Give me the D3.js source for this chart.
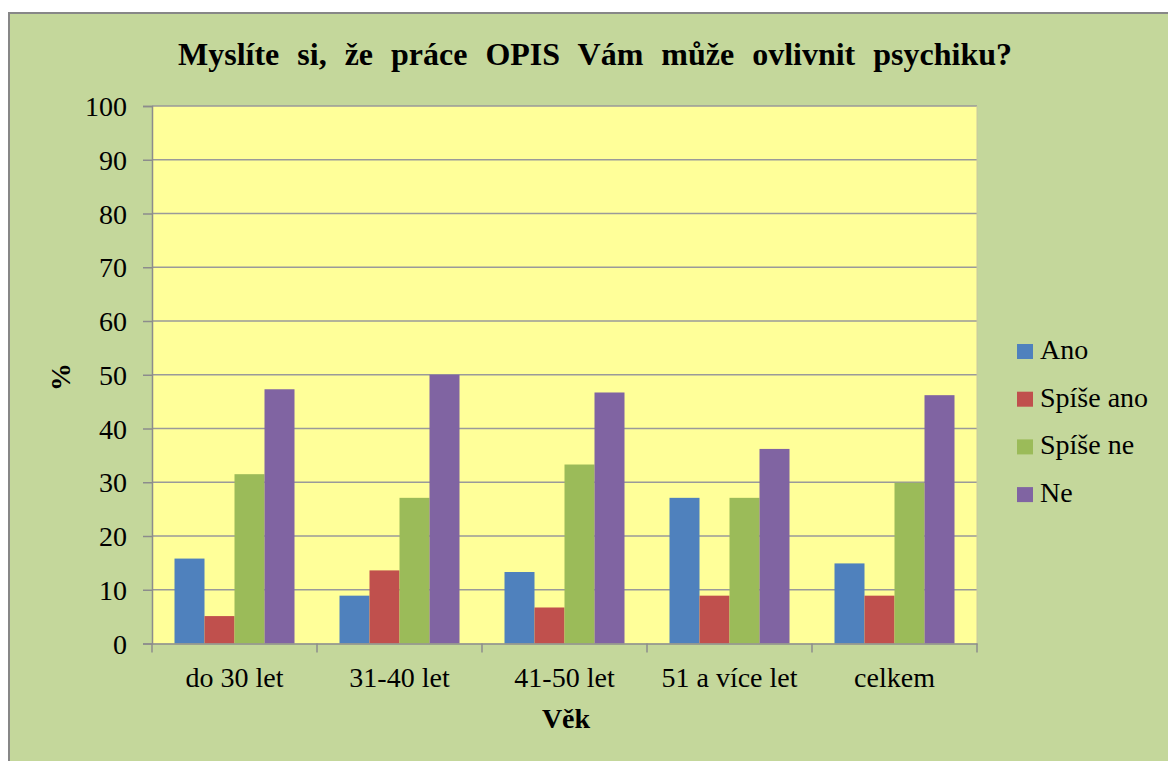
<!DOCTYPE html>
<html>
<head>
<meta charset="utf-8">
<script src="https://cdn.jsdelivr.net/npm/d3@7"></script>
<style>
  body { margin: 0; background: #fff; }
  svg text { fill: #000; }
</style>
</head>
<body>
<svg id="chart"></svg>
<script>
// data
const categories = ['do 30 let', '31-40 let', '41-50 let', '51 a více let', 'celkem'];
const seriesNames = ['Ano', 'Spíše ano', 'Spíše ne', 'Ne'];
const ano = [15.8, 8.9, 13.3, 27.1, 14.9];
const spiseAno = [5.1, 13.6, 6.7, 8.9, 8.9];
const spiseNe = [31.5, 27.1, 33.3, 27.1, 29.9];
const ne = [47.3, 50.0, 46.7, 36.2, 46.2];
const yTicks = [0, 10, 20, 30, 40, 50, 60, 70, 80, 90, 100];
const colors = ['#4f81bd', '#c0504d', '#9bbb59', '#8064a2'];

const series = [ano, spiseAno, spiseNe, ne];
const serif = "'Times New Roman', Times, Tinos, 'Liberation Serif', 'Noto Serif', 'DejaVu Serif', FreeSerif, serif";

// set up constants
const width = 1168;
const height = 761;
const plot = { left: 152, top: 106, right: 977, bottom: 643.5 };

const svg = d3.select('#chart')
  .attr('width', width)
  .attr('height', height);

// outer frame
svg.append('rect')
  .attr('x', 9).attr('y', 13)
  .attr('width', width + 20).attr('height', height + 20)
  .attr('fill', '#c4d79b')
  .attr('stroke', '#878787')
  .attr('stroke-width', 2);

// plot area
svg.append('rect')
  .attr('x', plot.left).attr('y', plot.top)
  .attr('width', plot.right - plot.left)
  .attr('height', plot.bottom - plot.top)
  .attr('fill', '#ffff99');

// create scales
const x0 = d3.scaleBand()
  .domain(categories)
  .range([plot.left, plot.right])
  .paddingInner(0)
  .paddingOuter(0);

const x1 = d3.scaleBand()
  .domain(d3.range(seriesNames.length))
  .range([0, x0.bandwidth()])
  .paddingOuter(0.75)
  .paddingInner(0);

const y = d3.scaleLinear()
  .domain([0, 100])
  .range([plot.bottom, plot.top]);

// gridlines
svg.append('g')
  .selectAll('line')
  .data(yTicks.filter(d => d > 0))
  .enter()
  .append('line')
  .attr('x1', plot.left).attr('x2', plot.right)
  .attr('y1', d => y(d)).attr('y2', d => y(d))
  .attr('stroke', '#9a9a9a')
  .attr('stroke-width', 1.5);

// right edge of plot
svg.append('line')
  .attr('x1', plot.right).attr('x2', plot.right)
  .attr('y1', plot.top).attr('y2', plot.bottom)
  .attr('stroke', '#c8c8a0');

// bars
const groups = svg.append('g')
  .selectAll('g')
  .data(categories)
  .enter()
  .append('g')
  .attr('transform', d => `translate(${x0(d)},0)`);

groups.selectAll('rect')
  .data((d, i) => series.map((s, j) => ({ k: j, v: s[i] })))
  .enter()
  .append('rect')
  .attr('x', d => x1(d.k))
  .attr('width', x1.bandwidth())
  .attr('y', d => y(d.v))
  .attr('height', d => y(0) - y(d.v))
  .attr('fill', d => colors[d.k]);

// y axis
const yAxis = d3.axisLeft(y)
  .tickValues(yTicks)
  .tickSize(9)
  .tickPadding(16);

const gy = svg.append('g')
  .attr('transform', `translate(${plot.left},0)`)
  .call(yAxis)
  .attr('font-family', serif)
  .attr('font-size', 28);
gy.selectAll('path, line').attr('stroke', '#8c8c8c').attr('stroke-width', 1.5);
gy.selectAll('text').attr('dy', '0.34em');

// x axis
const xAxis = d3.axisBottom(x0).tickSize(0).tickPadding(28);
const gx = svg.append('g')
  .attr('transform', `translate(0,${plot.bottom})`)
  .call(xAxis)
  .attr('font-family', serif)
  .attr('font-size', 28);
gx.select('.domain').attr('stroke', '#8c8c8c').attr('stroke-width', 1.5);
gx.selectAll('text')
  .attr('y', 0).attr('dy', 0)
  .attr('transform', 'translate(0,43)');

// x boundary ticks
svg.append('g')
  .selectAll('line')
  .data(categories.map(c => x0(c)).concat([plot.right]))
  .enter()
  .append('line')
  .attr('x1', d => d).attr('x2', d => d)
  .attr('y1', plot.bottom).attr('y2', plot.bottom + 9)
  .attr('stroke', '#8c8c8c')
  .attr('stroke-width', 1.5);

// title
const title = svg.append('text')
  .attr('x', 595)
  .attr('y', 65)
  .attr('text-anchor', 'middle')
  .attr('font-family', serif)
  .attr('font-size', 32)
  .attr('font-weight', 'bold')
  .text('Myslíte si, že práce OPIS Vám může ovlivnit psychiku?');
const tw = title.node().getComputedTextLength();
title.attr('word-spacing', Math.max(0, (834 - tw) / 8));

// axis titles
svg.append('text')
  .attr('x', 566)
  .attr('y', 728)
  .attr('text-anchor', 'middle')
  .attr('font-family', serif)
  .attr('font-size', 28)
  .attr('font-weight', 'bold')
  .text('Věk');

svg.append('text')
  .attr('transform', 'translate(70,377) rotate(-90)')
  .attr('text-anchor', 'middle')
  .attr('font-family', serif)
  .attr('font-size', 28)
  .attr('font-weight', 'bold')
  .text('%');

// legend
const legend = svg.append('g')
  .selectAll('g')
  .data(seriesNames)
  .enter()
  .append('g')
  .attr('transform', (d, i) => `translate(1017,${359 + i * 47.7})`);

legend.append('rect')
  .attr('x', 0).attr('y', -15)
  .attr('width', 16).attr('height', 15)
  .attr('fill', (d, i) => colors[i]);

legend.append('text')
  .attr('x', 23)
  .attr('y', 0)
  .attr('font-family', serif)
  .attr('font-size', 28)
  .text(d => d);
</script>
</body>
</html>
